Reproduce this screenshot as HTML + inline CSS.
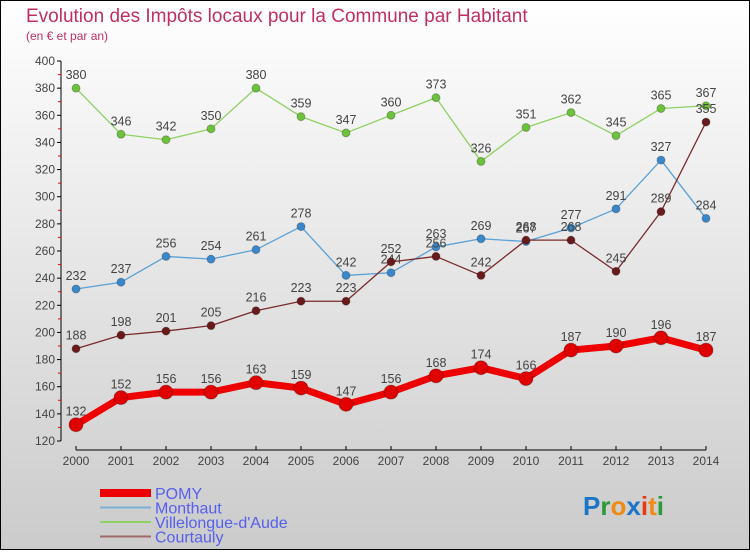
<!DOCTYPE html>
<html><head><meta charset="utf-8"><style>
html,body{margin:0;padding:0}
body{width:750px;height:550px;overflow:hidden;font-family:"Liberation Sans",sans-serif}
</style></head><body>
<svg id="chart" width="750" height="550" xmlns="http://www.w3.org/2000/svg">
<defs><linearGradient id="bg" x1="0" y1="0" x2="0" y2="1"><stop offset="0" stop-color="#ffffff"/><stop offset="1" stop-color="#cbcbcb"/></linearGradient></defs>
<rect x="0.5" y="0.5" width="749" height="549" fill="url(#bg)" stroke="#000"/>
<text x="26" y="22" font-size="19" fill="#c0305e">Evolution des Impôts locaux pour la Commune par Habitant</text>
<text x="26" y="40" font-size="12" fill="#c0305e">(en € et par an)</text>
<g id="axes"></g><g id="series"></g><g id="legend"></g>
<text x="583" y="515" font-size="26" font-weight="bold"><tspan fill="#1a74c8">P</tspan><tspan fill="#2a9a3a">r</tspan><tspan fill="#f08a10">o</tspan><tspan fill="#1a74c8">x</tspan><tspan fill="#e83a10">i</tspan><tspan fill="#f08a10">t</tspan><tspan fill="#2a9a3a">i</tspan></text>
</svg>
<script>
const years=[2000,2001,2002,2003,2004,2005,2006,2007,2008,2009,2010,2011,2012,2013,2014];
const yTicks=[120,140,160,180,200,220,240,260,280,300,320,340,360,380,400];
const pomy=[132,152,156,156,163,159,147,156,168,174,166,187,190,196,187];
const monthaut=[232,237,256,254,261,278,242,244,263,269,267,277,291,327,284];
const villelongue=[380,346,342,350,380,359,347,360,373,326,351,362,345,365,367];
const courtauly=[188,198,201,205,216,223,223,252,256,242,268,268,245,289,355];
const NS="http://www.w3.org/2000/svg";
const X=i=>76+i*45, Y=v=>441-(v-120)*380/280;
function el(t,a,p){const e=document.createElementNS(NS,t);for(const k in a)e.setAttribute(k,a[k]);p.appendChild(e);return e;}
const ax=document.getElementById('axes');
const ya=el('line',{x1:61,y1:61,x2:61,y2:441,stroke:'#000'},ax);


const xa=el('line',{x1:76,y1:450,x2:706,y2:450,stroke:'#000'},ax);


yTicks.forEach((v,i)=>{
 el('line',{x1:57,y1:Y(v),x2:61,y2:Y(v),stroke:'#000'},ax);
 if(i<yTicks.length-1) el('line',{x1:58,y1:Y(v+10),x2:61,y2:Y(v+10),stroke:'#e00'},ax);
 const t=el('text',{x:55,y:Y(v)+4,'font-size':12,'text-anchor':'end',fill:'#444'},ax);t.textContent=v;
 
 
});
years.forEach((y,i)=>{
 el('line',{x1:X(i),y1:446,x2:X(i),y2:450,stroke:'#000'},ax);
 const t=el('text',{x:X(i),y:465,'font-size':12,'text-anchor':'middle',fill:'#444'},ax);t.textContent=y;
 
 
});
const sg=document.getElementById('series');
function draw(vals,color,dot,w,r,name){
 const g=el('g',{},sg);
 
 
 el('polyline',{points:vals.map((v,i)=>X(i)+','+Y(v)).join(' '),fill:'none',stroke:color,'stroke-width':w,'stroke-linejoin':'round'},g);
 vals.forEach((v,i)=>{
  const c=el('circle',{cx:X(i),cy:Y(v),r:r,fill:dot,stroke:'rgba(0,0,0,0.25)'},g);
  
  
  const t=el('text',{x:X(i),y:Y(v)-9,'font-size':12.5,'text-anchor':'middle',fill:'#444'},g);t.textContent=v;
  
  
 });
}
draw(villelongue,'#8ed163','#6cc23a',1.3,4,'villelongue');
draw(monthaut,'#5aa0d6','#3a88cc',1.3,4,'monthaut');
draw(courtauly,'#7a2a2a','#6a1a1a',1.3,4,'courtauly');
draw(pomy,'#ee0000','#e00000',7,7,'pomy');
const lg=document.getElementById('legend');
const items=[['POMY','#ee0000',8],['Monthaut','#7ab0d6',2],['Villelongue-d\'Aude','#8ed163',2],['Courtauly','#a06a6a',2]];
items.forEach((it,i)=>{
 const y=493+i*14.5;
 const g=el('g',{},lg);
 
 
 el('line',{x1:100,y1:y,x2:151,y2:y,stroke:it[1],'stroke-width':it[2]},g);
 const t=el('text',{x:155,y:y+6,'font-size':16,fill:'#5560ee'},g);t.textContent=it[0];
});
</script>
</body></html>
